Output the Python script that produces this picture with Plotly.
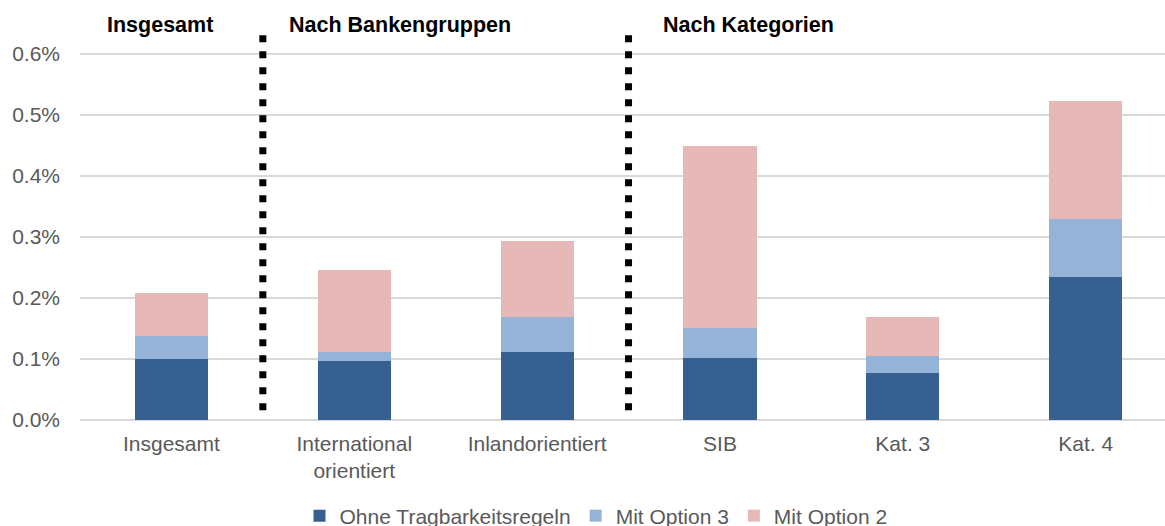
import plotly.graph_objects as go

categories = ["Insgesamt", "International<br>orientiert", "Inlandorientiert", "SIB", "Kat. 3", "Kat. 4"]
ohne = [0.100, 0.097, 0.111, 0.102, 0.077, 0.234]
option3 = [0.038, 0.015, 0.058, 0.049, 0.028, 0.096]
option2 = [0.070, 0.134, 0.124, 0.298, 0.064, 0.193]
series_names = ["Ohne Tragbarkeitsregeln", "Mit Option 3", "Mit Option 2"]
group_titles = ["Insgesamt", "Nach Bankengruppen", "Nach Kategorien"]
y_ticks = [0.0, 0.1, 0.2, 0.3, 0.4, 0.5, 0.6]

colors = ["#36608F", "#95B3D7", "#E6B9B8"]
xs = list(range(len(categories)))

fig = go.Figure()
for name, vals, col in zip(series_names, [ohne, option3, option2], colors):
    fig.add_trace(go.Bar(x=xs, y=vals, name=name, marker=dict(color=col, line=dict(width=0)),
                         hoverinfo="skip"))

FONT = "Liberation Sans, Arial, sans-serif"
GRAY = "#595959"

# dotted separators
for xsep in [0.5, 2.5]:
    fig.add_shape(type="line", xref="x", yref="y", x0=xsep, x1=xsep, y0=0.016, y1=0.632,
                  line=dict(color="black", width=7, dash="7px,9px"), layer="above")

title_x = [-0.063, 1.251, 3.158]
for t, xt in zip(group_titles, title_x):
    fig.add_annotation(x=xt, y=0.6475, xref="x", yref="y", text="<b>%s</b>" % t, showarrow=False,
                       font=dict(family=FONT, size=21.5, color="black"), xanchor="center", yanchor="middle")

fig.update_layout(
    barmode="stack",
    bargap=0.6,
    width=1165, height=526,
    margin=dict(l=79.5, r=0, t=0, b=106, autoexpand=False),
    plot_bgcolor="white", paper_bgcolor="white",
    font=dict(family=FONT, size=21, color=GRAY),
    showlegend=True,
    legend=dict(orientation="h", xref="container", x=0.5116, xanchor="center", yref="container",
                y=10 / 526, yanchor="middle",
                font=dict(size=21, color=GRAY), traceorder="normal", itemclick=False,
                bgcolor="rgba(0,0,0,0)"),
    xaxis=dict(range=[-0.5, 5.434], tickvals=xs, ticktext=categories, showgrid=False,
               showline=False, zeroline=False, ticks="", ticklabelstandoff=9,
               tickfont=dict(size=21, color=GRAY)),
    yaxis=dict(range=[0, 0.6885], tickvals=y_ticks, ticktext=["%.1f%%" % v for v in y_ticks],
               showgrid=True, gridcolor="#D9D9D9", gridwidth=1.5, zeroline=True,
               zerolinecolor="#D9D9D9", zerolinewidth=1.5, ticks="", ticklabelstandoff=19,
               tickfont=dict(size=21, color=GRAY)),
)

fig.write_html("out.html", config={"displayModeBar": False},
               post_script="document.body.style.margin='0';document.body.style.overflow='hidden';")
